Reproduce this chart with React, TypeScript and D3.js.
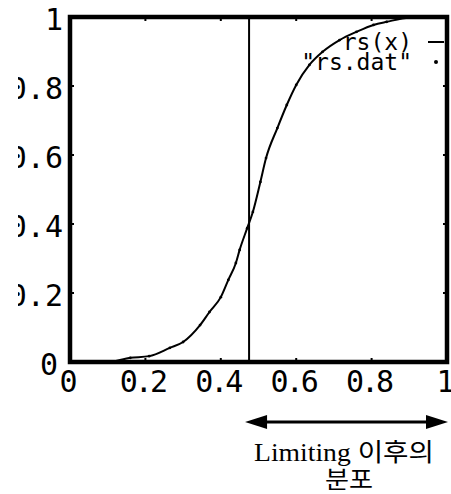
import * as d3 from "d3";

const W = 451;
const H = 494;

// rs.dat sample points
const xs = [0, 0.1, 0.16, 0.21, 0.265, 0.3, 0.345, 0.37, 0.4, 0.42, 0.44, 0.45, 0.47, 0.485, 0.505, 0.52, 0.55, 0.575, 0.6, 0.635, 0.67, 0.715, 0.76, 0.805, 0.84, 0.9, 1.0];
const ys = [0, 0, 0.012, 0.017, 0.041, 0.058, 0.107, 0.145, 0.188, 0.238, 0.287, 0.325, 0.388, 0.435, 0.522, 0.591, 0.678, 0.745, 0.803, 0.861, 0.899, 0.933, 0.957, 0.977, 0.986, 0.998, 1.0];

const xTicks = [0, 0.2, 0.4, 0.6, 0.8, 1];
const yTicks = [0, 0.2, 0.4, 0.6, 0.8, 1];
const xTickLabels = ["0", "0.2", "0.4", "0.6", "0.8", "1"];
const yTickLabels = ["0", "0.2", "0.4", "0.6", "0.8", "1"];
const limitX = 0.475;
const seriesNames = ["rs(x)", '"rs.dat"'];
const noteLines = ["Limiting 이후의", "분포"];

const mono = "'DejaVu Sans Mono', monospace";
const serif = "'Liberation Serif', 'Noto Sans CJK KR', serif";

export default function App() {
  const x = d3.scaleLinear().domain([0, 1]).range([70, 447]);
  const y = d3.scaleLinear().domain([0, 1]).range([362, 17]);
  const pts = xs.map((v, i) => ({ x: v, y: ys[i] }));
  const line = d3.line<{ x: number; y: number }>()
    .x((d) => x(d.x))
    .y((d) => y(d.y))
    .curve(d3.curveMonotoneX);

  const ay = 422;
  const ax0 = x(limitX) - 4;
  const ax1 = 448;
  const head = 22;

  return (
    <svg width={W} height={H} style={{ position: "absolute", left: 0, top: 0, background: "#fff" }}>
      <defs>
        <clipPath id="ylab">
          <rect x={18} y={0} width={60} height={H} />
        </clipPath>
      </defs>

      {/* curve + data */}
      <path d={line(pts) || ""} fill="none" stroke="#000" strokeWidth={2} />
      {pts.map((d, i) => (
        <circle key={i} cx={x(d.x)} cy={y(d.y)} r={1.4} fill="#000" />
      ))}

      {/* limiting line */}
      <line x1={x(limitX)} x2={x(limitX)} y1={y(1)} y2={y(0)} stroke="#000" strokeWidth={2} />

      {/* inward ticks */}
      {xTicks.slice(1, -1).map((t) => (
        <g key={"xt" + t}>
          <line x1={x(t)} x2={x(t)} y1={y(0)} y2={y(0) - 4} stroke="#000" strokeWidth={2} />
          <line x1={x(t)} x2={x(t)} y1={y(1)} y2={y(1) + 4} stroke="#000" strokeWidth={2} />
        </g>
      ))}
      {yTicks.slice(1, -1).map((t) => (
        <g key={"yt" + t}>
          <line x1={x(0)} x2={x(0) + 4} y1={y(t)} y2={y(t)} stroke="#000" strokeWidth={2} />
          <line x1={x(1)} x2={x(1) - 4} y1={y(t)} y2={y(t)} stroke="#000" strokeWidth={2} />
        </g>
      ))}

      {/* frame */}
      <rect x={x(0)} y={y(1)} width={x(1) - x(0)} height={y(0) - y(1)} fill="none" stroke="#000" strokeWidth={4.5} />

      {/* tick labels */}
      {xTicks.map((t, i) => (
        <text
          key={"xl" + t}
          x={x(t) - 3}
          y={392}
          textAnchor="middle"
          fontFamily={mono}
          fontSize={30}
          letterSpacing={-3}
          fill="#000"
        >
          {xTickLabels[i]}
        </text>
      ))}
      <g clipPath="url(#ylab)">
        {yTicks.map((t, i) => (
          <text
            key={"yl" + t}
            x={t === 0 ? 58 : 63}
            y={y(t) + 13}
            textAnchor="end"
            fontFamily={mono}
            fontSize={30}
            fill="#000"
          >
            {yTickLabels[i]}
          </text>
        ))}
      </g>

      {/* legend */}
      <text x={412} y={50} textAnchor="end" fontFamily={mono} fontSize={23} fill="#000">
        {seriesNames[0]}
      </text>
      <line x1={428} x2={444} y1={42} y2={42} stroke="#000" strokeWidth={2} />
      <text x={412} y={70} textAnchor="end" fontFamily={mono} fontSize={23} fill="#000">
        {seriesNames[1]}
      </text>
      <circle cx={436} cy={62} r={2} fill="#000" />

      {/* double arrow */}
      <line x1={ax0 + head - 2} x2={ax1 - head + 2} y1={ay} y2={ay} stroke="#000" strokeWidth={3} />
      <path d={`M${ax0},${ay} L${ax0 + head},${ay - 7} L${ax0 + head},${ay + 7} Z`} fill="#000" />
      <path d={`M${ax1},${ay} L${ax1 - head},${ay - 7} L${ax1 - head},${ay + 7} Z`} fill="#000" />

      {/* note */}
      <text x={254} y={461} fontFamily={serif} fontSize={25} textLength={180} lengthAdjust="spacingAndGlyphs" fill="#000">
        {noteLines[0]}
      </text>
      <text x={325} y={488} fontFamily={serif} fontSize={24} textLength={48} lengthAdjust="spacingAndGlyphs" fill="#000">
        {noteLines[1]}
      </text>
    </svg>
  );
}
